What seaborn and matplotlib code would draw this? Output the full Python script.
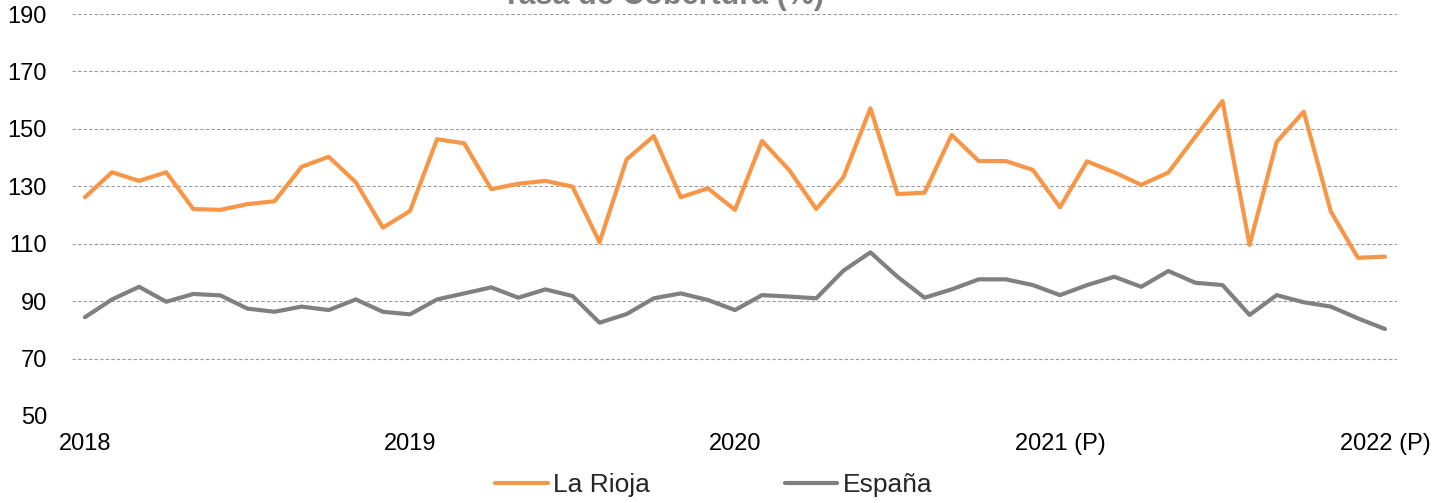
import numpy as np
import pandas as pd
import seaborn as sns
import matplotlib.pyplot as plt

# datos mensuales, enero 2018 - enero 2022
la_rioja = [126.2, 134.9, 131.9, 134.9, 122.1, 121.8, 123.8, 124.8, 136.8, 140.3,
            131.4, 115.6, 121.4, 146.4, 145.0, 129.0, 130.9, 131.9, 129.9, 110.5,
            139.4, 147.5, 126.2, 129.3, 121.8, 145.8, 135.7, 122.1, 133.1, 157.2,
            127.3, 127.8, 147.9, 138.8, 138.8, 135.7, 122.7, 138.7, 134.9, 130.5,
            134.8, 147.3, 159.7, 109.6, 145.5, 156.0, 121.2, 105.1, 105.5]
espana = [84.4, 90.6, 95.0, 89.8, 92.5, 92.0, 87.4, 86.3, 88.1, 86.9,
          90.6, 86.3, 85.4, 90.6, 92.7, 94.8, 91.2, 94.1, 91.8, 82.5,
          85.5, 91.0, 92.7, 90.4, 86.9, 92.1, 91.6, 91.0, 100.6, 107.0,
          98.5, 91.2, 94.1, 97.6, 97.6, 95.6, 92.1, 95.6, 98.5, 95.0,
          100.5, 96.4, 95.6, 85.2, 92.1, 89.6, 88.1, 84.0, 80.3]
series = ['La Rioja', 'España']
tick_pos = [0, 12, 24, 36, 48]
tick_labels = ['2018', '2019', '2020', '2021 (P)', '2022 (P)']

mes = np.arange(len(la_rioja))
df = pd.DataFrame({
    'mes': np.concatenate([mes, mes]),
    'valor': la_rioja + espana,
    'serie': [series[0]] * len(la_rioja) + [series[1]] * len(espana),
})

sns.set_style('white')
plt.rcParams['font.family'] = ['Liberation Sans', 'DejaVu Sans']

fig = plt.figure(figsize=(14.36, 5.03), dpi=100)
ax = fig.add_axes([0.0501, 0.173, 0.9227, 0.799])

sns.lineplot(data=df, x='mes', y='valor', hue='serie',
             palette={'La Rioja': '#F79646', 'España': '#808080'},
             linewidth=3, ax=ax, legend=True)

ax.set_xlim(-0.48, 48.44)
ax.set_ylim(50, 190)
ax.set_yticks(range(50, 191, 20))
ax.set_xticks(tick_pos)
ax.set_xticklabels(tick_labels)
ax.tick_params(axis='both', labelsize=17, length=0, colors='black')
ax.tick_params(axis='y', pad=18)
ax.tick_params(axis='x', pad=12)
ax.set_xlabel('')
ax.set_ylabel('')

for v in range(70, 191, 20):
    ax.axhline(v, color='#9a9a9a', linewidth=0.8, linestyle=(0, (3, 2)), zorder=0)
ax.axhline(50, color='#dcdcdc', linewidth=0.8, linestyle=(0, (3, 2)), zorder=0)
for s in ax.spines.values():
    s.set_visible(False)

ax.legend_.remove()
handles, labels = ax.get_legend_handles_labels()
fig.legend(handles, labels, loc='center', bbox_to_anchor=(0.497, 0.036),
           ncol=2, frameon=False, fontsize=19, handlelength=2.0,
           handletextpad=0.2, columnspacing=5.1)

fig.text(0.4617, 1 - 4 / 503, 'Tasa de Cobertura (%)', ha='center', va='baseline',
         fontsize=22, fontweight='bold', color='#7f7f7f')

fig.savefig('out.png', dpi=100)
